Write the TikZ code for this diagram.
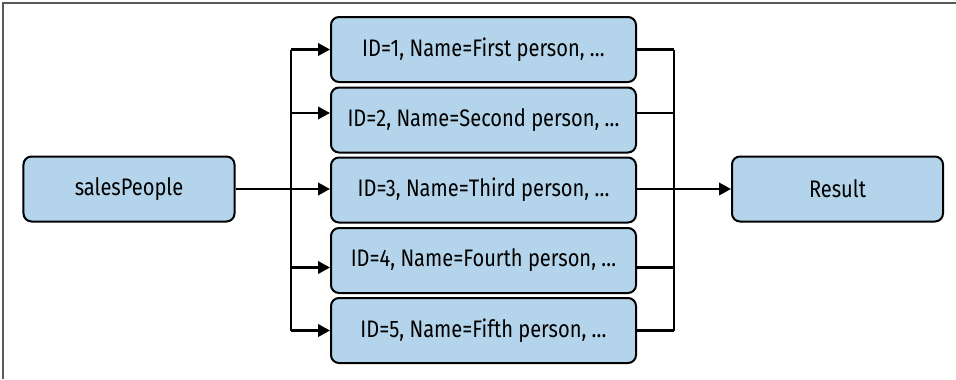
\documentclass[tikz,border=0pt]{standalone}
\usepackage{fontspec}
\setmainfont{Fira Sans}[FakeStretch=0.84]
\usetikzlibrary{arrows.meta}
\definecolor{boxblue}{RGB}{179,212,234}
\definecolor{framegray}{RGB}{90,90,90}
\tikzset{
  box/.style={draw=black, line width=2bp, fill=boxblue, rounded corners=8bp,
    minimum height=65bp, inner sep=0pt, font=\fontsize{24}{28}\selectfont},
  rowbox/.style={box, minimum width=305bp},
  endbox/.style={box, minimum width=211bp},
  conn/.style={line width=2.2bp, draw=black},
  arr/.style={conn, -{Triangle[length=12bp,width=12.5bp]}},
}
\begin{document}
\begin{tikzpicture}[x=1bp,y=-1bp]
\useasboundingbox (0,0) rectangle (956,379);
\draw[framegray, line width=1.5bp] (3,379) -- (3,3) -- (956,3);

\node[endbox] (sp) at (129,189) {salesPeople};
\node[rowbox] (b1) at (483.5,49.5) {ID=1, Name=First person, \dots};
\node[rowbox] (b2) at (483.5,120) {ID=2, Name=Second person, \dots};
\node[rowbox] (b3) at (483.5,190) {ID=3, Name=Third person, \dots};
\node[rowbox] (b4) at (483.5,260.5) {ID=4, Name=Fourth person, \dots};
\node[rowbox] (b5) at (483.5,330.5) {ID=5, Name=Fifth person, \dots};
\node[endbox] (res) at (837.5,189) {Result};

% left bus
\coordinate (l1) at (291,49.5);
\coordinate (l2) at (291,113);
\coordinate (l4) at (291,267.5);
\coordinate (l5) at (291,330.5);
\draw[conn] (l1) -- (l5);
\draw[arr] (l1) -- (b1.west);
\draw[arr] (l2) -- (l2 -| b2.west);
\draw[arr] (sp.east) -- (sp.east -| b3.west);
\draw[arr] (l4) -- (l4 -| b4.west);
\draw[arr] (l5) -- (b5.west);

% right bus
\coordinate (r1) at (674,49.5);
\coordinate (r2) at (674,113);
\coordinate (r4) at (674,267.5);
\coordinate (r5) at (674,330.5);
\draw[conn] (r1) -- (r5);
\draw[conn] (b1.east) -- (r1);
\draw[conn] (r2 -| b2.east) -- (r2);
\draw[conn] (r4 -| b4.east) -- (r4);
\draw[conn] (b5.east) -- (r5);
\draw[arr] (b3.east |- res.west) -- (res.west);
\end{tikzpicture}
\end{document}
